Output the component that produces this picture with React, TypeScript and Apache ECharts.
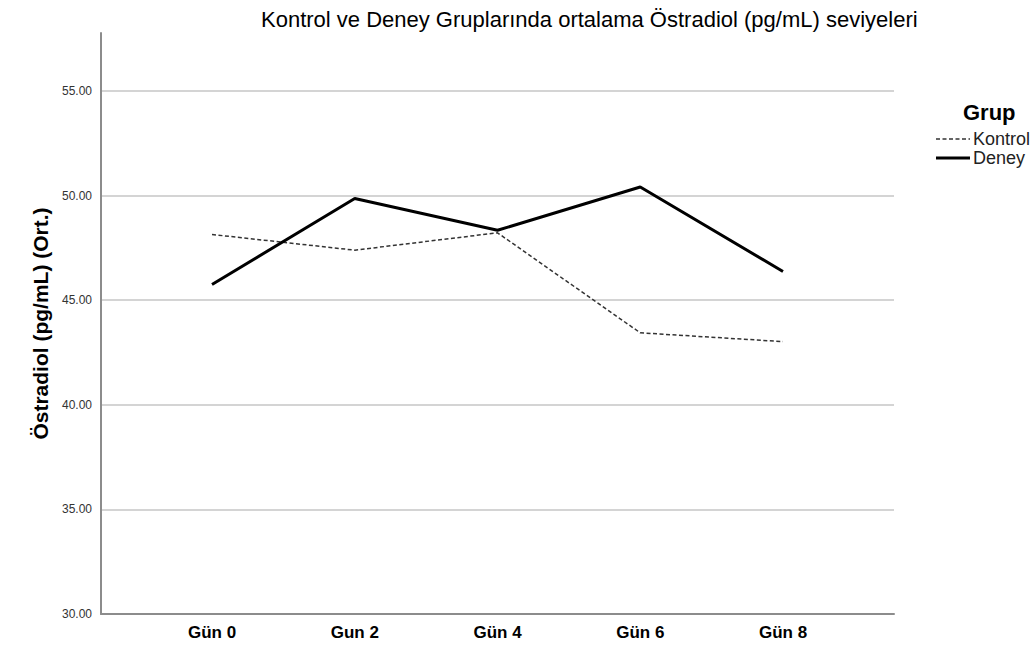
import React, { useEffect, useRef } from "react";
import * as echarts from "echarts";

const categories = ["Gün 0", "Gun 2", "Gün 4", "Gün 6", "Gün 8"];
const kontrol = [48.14, 47.39, 48.22, 43.44, 43.02];
const deney = [45.75, 49.86, 48.34, 50.41, 46.37];
const yTicks = [30, 35, 40, 45, 50, 55];
const legendNames = ["Kontrol", "Deney"];

export default function App() {
  const ref = useRef<HTMLDivElement>(null);
  useEffect(() => {
    if (!ref.current) return;
    const chart = echarts.init(ref.current, undefined, { renderer: "svg" });
    const font = "'Liberation Sans', Arial, sans-serif";
    const narrow = "'Liberation Sans Narrow', 'Arial Narrow', 'Liberation Sans', sans-serif";
    chart.setOption({
      animation: false,
      backgroundColor: "#ffffff",
      title: [
        {
          text: "Kontrol ve Deney Gruplarında ortalama Östradiol (pg/mL) seviyeleri",
          left: 256,
          top: 3,
          textStyle: { fontFamily: font, fontSize: 22, fontWeight: "normal", color: "#000" },
        },
        {
          text: "Grup",
          left: 958,
          top: 96,
          textStyle: { fontFamily: font, fontSize: 22, fontWeight: "bold", color: "#000" },
        },
      ],
      graphic: [
        {
          type: "line",
          shape: { x1: 936, y1: 139, x2: 970, y2: 139 },
          style: { stroke: "#333", lineWidth: 1.5, lineDash: [4, 2.5] },
        },
        {
          type: "text",
          x: 973,
          y: 139,
          style: {
            text: legendNames[0],
            fontFamily: font,
            fontSize: 18,
            fill: "#222",
            verticalAlign: "middle",
          },
        },
        {
          type: "line",
          shape: { x1: 936, y1: 158, x2: 970, y2: 158 },
          style: { stroke: "#000", lineWidth: 3 },
        },
        {
          type: "text",
          x: 973,
          y: 158,
          style: {
            text: legendNames[1],
            fontFamily: font,
            fontSize: 18,
            fill: "#222",
            verticalAlign: "middle",
          },
        },
      ],
      grid: { left: 101, right: 141, top: 33, bottom: 34, containLabel: false },
      xAxis: {
        type: "value",
        min: -0.7776,
        max: 4.7776,
        axisLine: { show: true, onZero: false, lineStyle: { color: "#8c8c8c", width: 2 } },
        axisTick: { show: false, customValues: categories.map((_, i) => i) },
        splitLine: { show: false },
        axisLabel: {
          customValues: categories.map((_, i) => i),
          formatter: (v: number) => categories[Math.round(v)] ?? "",
          fontFamily: narrow,
          fontSize: 17,
          fontWeight: "bold",
          color: "#000",
          margin: 10,
        },
      },
      yAxis: {
        type: "value",
        min: 30,
        max: 57.77,
        name: "Östradiol (pg/mL) (Ort.)",
        nameLocation: "middle",
        nameGap: 46,
        nameTextStyle: { fontFamily: font, fontSize: 21, fontWeight: "bold", color: "#000" },
        axisLine: { show: true, onZero: false, lineStyle: { color: "#8c8c8c", width: 2 } },
        axisTick: { show: false, customValues: yTicks },
        axisLabel: {
          customValues: yTicks,
          formatter: (v: number) => v.toFixed(2),
          fontFamily: font,
          fontSize: 12,
          color: "#333",
          margin: 9,
        },
        splitLine: {
          show: true,
          lineStyle: { color: "#d4d4d4", width: 2 },
        },
      },
      series: [
        {
          name: legendNames[0],
          type: "line",
          data: kontrol.map((v, i) => [i, v]),
          symbol: "none",
          lineStyle: { color: "#333", width: 1.5, type: [4, 2.5] },
          itemStyle: { color: "#333" },
        },
        {
          name: legendNames[1],
          type: "line",
          data: deney.map((v, i) => [i, v]),
          symbol: "none",
          lineStyle: { color: "#000", width: 3 },
          itemStyle: { color: "#000" },
        },
      ],
    });
    return () => chart.dispose();
  }, []);
  return (
    <div
      ref={ref}
      style={{ position: "fixed", left: 0, top: 0, width: 1035, height: 648 }}
    />
  );
}
